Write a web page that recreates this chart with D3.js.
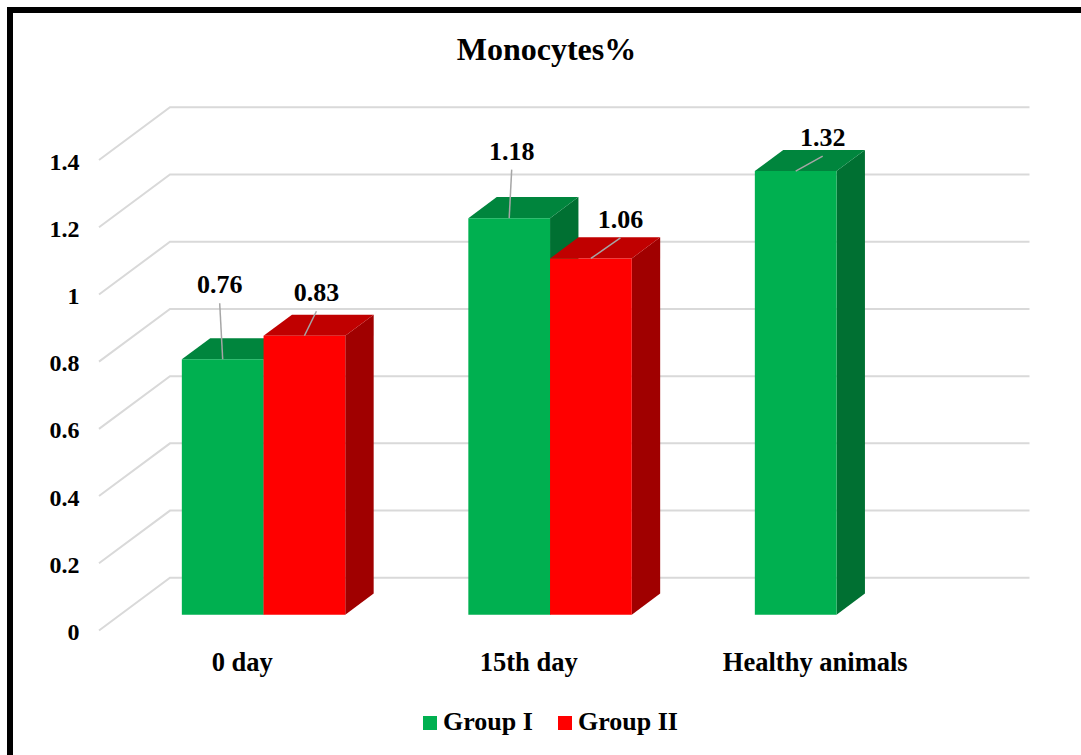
<!DOCTYPE html>
<html>
<head>
<meta charset="utf-8">
<script src="https://cdn.jsdelivr.net/npm/d3@7"></script>
<style>
  html, body { margin: 0; padding: 0; background: #fff; }
  svg { display: block; }
  text { font-family: "Liberation Serif", "Times New Roman", serif; font-weight: bold; fill: #000; }
</style>
</head>
<body>
<script>
// Monocytes% by sampling day, two groups (3D column chart)
const categories = ["0 day", "15th day", "Healthy animals"];
const seriesNames = ["Group I", "Group II"];
const groupI = [0.76, 1.18, 1.32];
const groupII = [0.83, 1.06, null];
const yTicks = [0, 0.2, 0.4, 0.6, 0.8, 1, 1.2, 1.4];
const yTickLabels = ["0", "0.2", "0.4", "0.6", "0.8", "1", "1.2", "1.4"];

const W = 1081, H = 755;
const DX = 71, DY = 52.7;          // depth offset of the back wall
const Z0 = 0.30, Z1 = 0.70;        // depth range occupied by the columns

// face colours per series: front, top, side
const palette = {
  "Group I":  { front: "#00B050", top: "#00853D", side: "#007032" },
  "Group II": { front: "#FF0000", top: "#C00000", side: "#A00000" }
};

// data-label placement relative to each column's top-front centre
const labelShift = {
  "Group I":  [[-3, -66], [2.5, -58.5], [27, -25]],
  "Group II": [[12, -34.5], [29.5, -30.5], null]
};

const svg = d3.select("body").append("svg").attr("width", W).attr("height", H);
svg.append("rect").attr("width", W).attr("height", H).attr("fill", "#fff");

const y = d3.scaleLinear().domain([0, 1.4]).range([630.5, 160]);
const x0 = d3.scaleBand().domain(categories).range([99, 958.5]);
const x1 = d3.scaleBand().domain(seriesNames).range([0, x0.bandwidth()])
  .paddingInner(0).paddingOuter(0.753);

const proj = (x, v, z) => [x + z * DX, y(v) - z * DY];
const poly = pts => "M" + pts.map(p => p.join(",")).join("L") + "Z";

// gridlines: floor diagonal + back wall
svg.append("g").selectAll("path").data(yTicks).join("path")
  .attr("d", v => {
    const a = proj(x0.range()[0], v, 0), b = proj(x0.range()[0], v, 1), c = proj(x0.range()[1], v, 1);
    return `M${a}L${b}L${c}`;
  })
  .attr("fill", "none").attr("stroke", "#D9D9D9").attr("stroke-width", 2);

// y-axis labels
svg.append("g").selectAll("text").data(yTicks).join("text")
  .attr("x", 79.5).attr("y", v => y(v) + 9.5)
  .attr("text-anchor", "end").attr("font-size", 24)
  .text((v, i) => yTickLabels[i]);

// columns
const rows = [];
categories.forEach((c, ci) => {
  [groupI, groupII].forEach((arr, si) => {
    const v = arr[ci];
    if (v == null) return;
    rows.push({ cat: c, ci, series: seriesNames[si], v });
  });
});

const bars = svg.append("g").selectAll("g").data(rows).join("g");
bars.each(function (d) {
  const g = d3.select(this);
  const xl = x0(d.cat) + x1(d.series), xr = xl + x1.bandwidth();
  const col = palette[d.series];
  g.append("path").attr("fill", col.side)
    .attr("d", poly([proj(xr, 0, Z0), proj(xr, d.v, Z0), proj(xr, d.v, Z1), proj(xr, 0, Z1)]));
  g.append("path").attr("fill", col.top)
    .attr("d", poly([proj(xl, d.v, Z0), proj(xr, d.v, Z0), proj(xr, d.v, Z1), proj(xl, d.v, Z1)]));
  g.append("path").attr("fill", col.front)
    .attr("d", poly([proj(xl, 0, Z0), proj(xr, 0, Z0), proj(xr, d.v, Z0), proj(xl, d.v, Z0)]));
});

// data labels with leader lines
const labels = svg.append("g");
rows.forEach(d => {
  const xl = x0(d.cat) + x1(d.series);
  const [cx, ty] = proj(xl + x1.bandwidth() / 2, d.v, Z0);
  const [dx, dy] = labelShift[d.series][d.ci];
  const lx = cx + dx, ly = ty + dy;
  labels.append("line")
    .attr("x1", lx).attr("y1", ly + 10).attr("x2", cx).attr("y2", ty)
    .attr("stroke", "#A6A6A6").attr("stroke-width", 1.5);
  labels.append("text")
    .attr("x", lx).attr("y", ly).attr("text-anchor", "middle").attr("font-size", 26)
    .text(d.v.toFixed(2));
});

// category labels
svg.append("g").selectAll("text").data(categories).join("text")
  .attr("x", c => x0(c) + x0.bandwidth() / 2).attr("y", 671)
  .attr("text-anchor", "middle").attr("font-size", 26.5)
  .text(c => c);

// title
svg.append("text").attr("x", 546.5).attr("y", 59.5)
  .attr("text-anchor", "middle").attr("font-size", 32).text("Monocytes%");

// legend
const legendX = [423, 558];
const legend = svg.append("g").selectAll("g").data(seriesNames).join("g")
  .attr("transform", (s, i) => `translate(${legendX[i]},716)`);
legend.append("rect").attr("width", 14).attr("height", 14).attr("fill", s => palette[s].front);
legend.append("text").attr("x", 20).attr("y", 13.5).attr("font-size", 26).text(s => s);

// outer frame
svg.append("rect").attr("x", 10).attr("y", 10).attr("width", W + 20).attr("height", H + 20)
  .attr("fill", "none").attr("stroke", "#000").attr("stroke-width", 6);
</script>
</body>
</html>
